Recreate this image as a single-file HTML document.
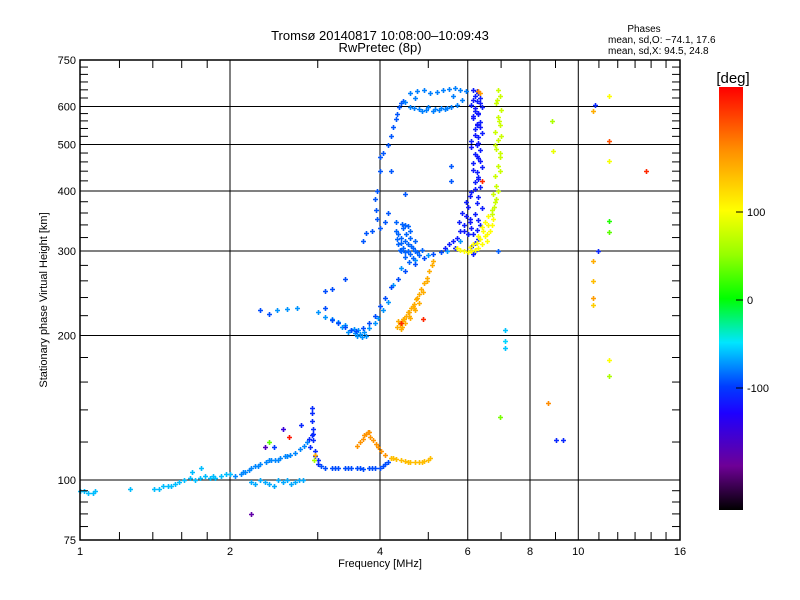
<!DOCTYPE html>
<html><head><meta charset="utf-8"><style>
html,body{margin:0;padding:0;background:#fff;}
svg{display:block;font-family:"Liberation Sans",sans-serif;}
</style></head><body>
<svg id="chart" width="800" height="600" viewBox="0 0 800 600" xmlns="http://www.w3.org/2000/svg">
<rect x="0" y="0" width="800" height="600" fill="#fff"/>
<text x="380" y="40" font-size="13" text-anchor="middle">Tromsø 20140817 10:08:00–10:09:43</text>
<text x="380" y="52" font-size="13" text-anchor="middle">RwPretec (8p)</text>
<g font-size="10">
<text x="644" y="32" text-anchor="middle">Phases</text>
<text x="608" y="43">mean, sd,O: −74.1, 17.6</text>
<text x="608" y="54">mean, sd,X:  94.5, 24.8</text>
</g>
<g id="grid"></g>
<g id="points"></g>
<rect x="80" y="60" width="600" height="480" fill="none" stroke="#000" stroke-width="1.5"/>
<g id="axes" font-size="11"></g>
<text x="380" y="567" font-size="11" text-anchor="middle">Frequency [MHz]</text>
<text x="0" y="0" font-size="11" text-anchor="middle" transform="translate(47,300) rotate(-90)">Stationary phase Virtual Height [km]</text>
<defs><linearGradient id="cmap" x1="0" y1="0" x2="0" y2="1">
<stop offset="0" stop-color="#ff0000"/><stop offset="0.146" stop-color="#ff8c00"/><stop offset="0.292" stop-color="#ffff00"/><stop offset="0.396" stop-color="#96ff00"/><stop offset="0.5" stop-color="#00ff00"/><stop offset="0.604" stop-color="#00e6ff"/><stop offset="0.708" stop-color="#003cff"/><stop offset="0.771" stop-color="#1e00ff"/><stop offset="0.896" stop-color="#6e0096"/><stop offset="1" stop-color="#000000"/>
</linearGradient></defs>
<rect x="719" y="87" width="24" height="423" fill="url(#cmap)"/>
<text x="733" y="83" font-size="15" text-anchor="middle">[deg]</text>
<g id="cbar" font-size="11"></g>
</svg>
<script>
const xTickVals=[1,2,4,6,8,10,16];
const xTickLabels=["1","2","4","6","8","10","16"];
const yTickVals=[75,100,200,300,400,500,600,750];
const yTickLabels=["75","100","200","300","400","500","600","750"];
const cbarVals=[100,0,-100];
const cbarLabels=["100","0","-100"];
const xMinor=[1.2,1.4,1.6,1.8,3,5,7,9,11,12,13,14,15];
const yMinor=[80,85,90,95,120,140,160,180,220,240,260,280,320,340,360,380,420,440,460,480,520,540,560,580,625,650,675,700,725];

// echo groups: phase (deg), frequencies (MHz), virtual heights (km)
const eLowPhase=-62;
const eLowF=[1.0,1.02,1.04,1.06,1.07,1.26,1.41,1.44,1.47,1.5,1.52,1.55,1.58,1.62,1.66,1.7,1.74,1.78,1.82,1.87,1.92,1.96,2.0,1.68,1.75,1.85];
const eLowH=[95,95,94,94,95,96,96,96,97,97,97,98,99,100,101,100,101,102,101,101,102,103,103,104,106,102];
const eRisePhase=-78;
const eRiseF=[2.05,2.1,2.14,2.2,2.25,2.3,2.36,2.42,2.46,2.52,2.58,2.64,2.7,2.76,2.82,2.86,2.12,2.18,2.28,2.4,2.5,2.6];
const eRiseH=[102,103,104,106,107,108,109,110,110,111,112,113,114,116,118,120,104,105,107,110,110,112];
const eSpikePhase=-108;
const eSpikeF=[2.92,2.92,2.92,2.93,2.92,2.94,2.94,2.96,2.96,3.0,3.0,2.9,2.88];
const eSpikeH=[141,138,133,128,124,125,121,115,112,110,108,117,122];
const eFlatPhase=-95;
const eFlatF=[3.05,3.1,3.2,3.3,3.4,3.5,3.6,3.7,3.8,3.9,4.0,4.05,4.1,4.15,3.25,3.45,3.65,3.85];
const eFlatH=[107,106,106,106,106,106,106,105.5,106,106,106,107,108,109,106,106,106,106];
const eBelowPhase=-68;
const eBelowF=[2.2,2.25,2.3,2.35,2.4,2.5,2.55,2.6,2.7,2.75,2.8,2.45,2.65];
const eBelowH=[99,98,100,99,98,100,99,100,99,100,100,97,98];
const eCuspPhase=165;
const eCuspF=[3.6,3.65,3.7,3.75,3.78,3.82,3.87,3.92,3.97,4.02,4.1,3.72,3.8];
const eCuspH=[118,120,122,125,126,123,121,119,117,115,113,124,126];
const eTailPhase=140;
const eTailF=[4.2,4.3,4.4,4.5,4.6,4.7,4.8,4.9,5.0,5.05,4.25,4.55,4.85];
const eTailH=[111,110.5,110,109.5,109,109,109,109.5,110,111,111,109,109];
const oLowPhase=-74;
const oLowF=[2.48,2.6,2.72,3.0,3.1,3.2,3.3,3.4,3.5,3.56,3.64,3.72,3.8,3.9,3.96,4.05,4.15,4.25,4.4,4.7,5.0,5.45,5.8,6.0,3.45,3.6,3.68,3.35,3.55,3.75,3.62];
const oLowH=[226,227,228,224,219,216,213,210,205,202,201,203,207,212,218,226,235,255,277,288,295,300,315,326,203,200,199,208,206,200,205];
const oLow2Phase=-95;
const oLow2F=[3.2,3.3,3.4,3.5,3.58,3.7,3.8,3.9,4.0,4.1,4.2,4.35,4.5,4.7,4.9,5.1,5.3,3.1,3.2,3.4,3.1,2.4,2.3];
const oLow2H=[215,212,208,205,204,207,212,220,230,240,252,262,272,282,290,296,298,248,250,262,228,222,226];
const clusterPhase=-88;
const clusterF=[4.3,4.35,4.4,4.45,4.5,4.55,4.6,4.65,4.4,4.5,4.6,4.7,4.8,4.35,4.45,4.55,4.65,4.75,4.85,4.5,4.6,4.4,4.7,4.3,4.55,4.32,4.42,4.52,4.62,4.38,4.48,4.58];
const clusterH=[330,325,320,335,315,310,320,305,300,298,296,300,295,310,305,300,290,298,302,340,330,312,315,345,338,318,342,325,308,302,292,285];
const upperPhase=-92;
const upperF=[4.0,4.05,4.15,4.2,4.25,4.3,4.33,4.36,4.4,4.45,4.2,4.0,3.95,3.9,3.92,3.94,4.0,4.1,4.15,3.85,3.75,3.7,5.55,5.55,4.48];
const upperH=[470,480,500,520,545,565,580,600,610,615,440,440,400,385,365,350,335,345,360,330,327,315,450,420,395];
const loopPhase=-80;
const loopF=[4.6,4.75,4.9,5.05,5.2,5.35,5.5,5.65,5.8,5.95,4.5,4.6,4.8,4.95,5.1,5.25,5.4,5.55,5.7,5.85,4.7,5.0,5.3,5.6,4.68,4.85,5.15,5.45];
const loopH=[640,645,648,640,642,650,652,655,650,645,612,600,592,590,588,590,592,598,605,620,625,600,597,630,595,588,594,596];
const oVertPhase=-115;
const oVertF=[6.15,6.3,6.2,6.35,6.25,6.1,6.4,6.2,6.3,6.15,6.35,6.25,6.2,6.4,6.3,6.1,6.25,6.35,6.2,6.3,6.15,6.4,6.25,6.3,6.2,6.35,6.1,6.3,6.25,6.4,6.2,6.3,6.35,6.25,6.15,6.3,6.2,6.1,6.2,6.15,5.7,5.8,5.6,5.9,5.75,5.5,5.85,5.95,5.65,5.4];
const oVertH=[650,640,632,625,615,605,598,588,578,568,558,548,538,528,518,508,498,488,478,468,458,448,438,428,418,408,398,388,378,368,358,348,340,332,325,318,312,306,300,296,320,330,315,340,345,310,360,380,305,305];
const oVert2Phase=-118;
const oVert2F=[6.25,6.15,6.35,6.2,6.3,6.15,6.25,6.35,6.2,6.3,6.1,6.25,6.35,6.15,6.3,6.2,6.05,6.0,5.95,6.05,5.9,6.0,6.1,6.05];
const oVert2H=[645,620,610,595,583,573,553,543,523,503,493,473,463,443,423,403,390,370,355,345,330,325,335,350];
const xTopPhase=75;
const xTopF=[6.9,6.95,6.85,7.0,6.9,6.95,6.8,6.9,6.85,6.95,6.9,6.8,6.85,6.75,6.8,6.7,6.88,6.92,6.82,6.98,6.95,7.0,6.9,6.85,6.78,6.72];
const xTopH=[650,630,610,590,570,550,530,510,490,470,450,430,410,395,380,365,620,560,500,440,480,520,400,385,370,358];
const xLowPhase=100;
const xLowF=[6.75,6.6,6.65,6.5,6.55,6.4,6.3,6.2,6.1,6.0,5.9,5.8,5.7,6.45,6.7,6.35,6.25,6.6,6.5,6.4,6.55,6.3,6.15,6.05];
const xLowH=[350,340,330,322,315,310,305,302,300,298,300,302,305,330,340,318,312,355,345,336,325,322,310,306];
const xOrangePhase=150;
const xOrangeF=[4.33,4.38,4.42,4.47,4.52,4.57,4.62,4.67,4.72,4.78,4.84,4.9,4.96,5.02,5.08,5.11,4.4,4.5,4.6,4.7,4.8,4.45,4.55,4.65,4.75,4.35,4.42,4.58,4.68,4.88,4.98];
const xOrangeH=[208,211,214,217,220,224,228,233,238,244,250,257,264,272,280,286,206,212,218,226,234,216,224,230,240,214,208,220,228,246,260];
const strayF=[10.7,11.5,11.5,11.5,11.5,11.5,10.8,10.95,10.7,10.7,10.7,10.7,13.7,8.85,8.9,8.7,9.03,9.33,7.13,7.13,7.13,6.96,11.5,11.5,6.9,2.55,2.63,2.35,2.4,2.45,2.78,2.96,2.95,2.2,4.88,4.4,6.35,6.4,6.3];
const strayH=[588,632,509,463,347,328,603,300,286,260,240,231,441,560,485,145,121,121,205,195,188,135,178,165,300,128,123,117,120,117,130,113,110,85,217,212,640,420,645];
const strayP=[150,100,200,95,10,30,-110,-110,150,140,160,130,220,60,90,170,-110,-110,-60,-55,-60,40,100,60,-90,-150,230,-170,30,-100,-110,150,60,-180,220,220,160,220,170];

const groups=[
 [eLowPhase,eLowF,eLowH],[eRisePhase,eRiseF,eRiseH],[eSpikePhase,eSpikeF,eSpikeH],
 [eFlatPhase,eFlatF,eFlatH],[eBelowPhase,eBelowF,eBelowH],[eCuspPhase,eCuspF,eCuspH],
 [eTailPhase,eTailF,eTailH],[oLowPhase,oLowF,oLowH],[oLow2Phase,oLow2F,oLow2H],
 [clusterPhase,clusterF,clusterH],[upperPhase,upperF,upperH],[loopPhase,loopF,loopH],
 [oVertPhase,oVertF,oVertH],[oVert2Phase,oVert2F,oVert2H],[xTopPhase,xTopF,xTopH],[xLowPhase,xLowF,xLowH],
 [xOrangePhase,xOrangeF,xOrangeH]
];

const NS="http://www.w3.org/2000/svg";
function xs(f){return 80+150*Math.log2(f);}
function ys(h){return 540-480*Math.log(h/75)/Math.log(10);}
function cy(v){return 300-0.88*v;}
const cstops=[[-240,0,0,0],[-190,110,0,150],[-130,30,0,255],[-100,0,60,255],[-50,0,230,255],[0,0,255,0],[50,150,255,0],[100,255,255,0],[170,255,140,0],[240,255,0,0]];
function col(v){
  v=Math.max(-240,Math.min(240,v));
  for(let i=0;i<cstops.length-1;i++){const a=cstops[i],b=cstops[i+1];
    if(v<=b[0]){const t=(v-a[0])/(b[0]-a[0]);
      return "rgb("+[1,2,3].map(k=>Math.round(a[k]+t*(b[k]-a[k]))).join(",")+")";}}
  return "rgb(255,0,0)";
}
function mk(tag,attrs,parent){const e=document.createElementNS(NS,tag);for(const k in attrs)e.setAttribute(k,attrs[k]);parent.appendChild(e);return e;}

const grid=document.getElementById("grid"),axes=document.getElementById("axes"),pts=document.getElementById("points"),cb=document.getElementById("cbar");
xTickVals.forEach((f,i)=>{
  const x=xs(f);
  if(i>0&&i<xTickVals.length-1){const l=mk("line",{x1:x,y1:60,x2:x,y2:540,stroke:"#000","stroke-width":1},grid);
    
    }
  const t=mk("text",{x:x,y:555,"text-anchor":"middle"},axes);t.textContent=xTickLabels[i];
  
  
});
yTickVals.forEach((h,i)=>{
  const y=ys(h);
  if(i>0&&i<yTickVals.length-1){const l=mk("line",{x1:80,y1:y,x2:680,y2:y,stroke:"#000","stroke-width":1},grid);
    
    }
  const t=mk("text",{x:76,y:y+4,"text-anchor":"end"},axes);t.textContent=yTickLabels[i];
  
  
});
xMinor.forEach(f=>{const x=xs(f);
  const a=mk("line",{x1:x,y1:540,x2:x,y2:532,stroke:"#000"},axes);
  
  
  const b=mk("line",{x1:x,y1:60,x2:x,y2:68,stroke:"#000"},axes);
  
  
});
yMinor.forEach(h=>{const y=ys(h);
  const a=mk("line",{x1:80,y1:y,x2:88,y2:y,stroke:"#000"},axes);
  
  
  const b=mk("line",{x1:672,y1:y,x2:680,y2:y,stroke:"#000"},axes);
  
  
});
function plus(f,h,p){
  const x=Math.round(xs(f)),y=Math.round(ys(h)),c=col(p);
  const g=mk("path",{d:"M"+(x-2)+" "+(y+0.5)+"h5M"+(x+0.5)+" "+(y-2)+"v5",stroke:c,"stroke-width":1.6,fill:"none"},pts);
  
  
}
groups.forEach(g=>{const p=g[0],F=g[1],H=g[2];for(let i=0;i<F.length;i++)plus(F[i],H[i],p);});
for(let i=0;i<strayF.length;i++)plus(strayF[i],strayH[i],strayP[i]);
cbarVals.forEach((v,i)=>{const y=cy(v);
  const l=mk("line",{x1:736,y1:y,x2:743,y2:y,stroke:"#000"},cb);
  
  
  const t=mk("text",{x:747,y:y+4},cb);t.textContent=cbarLabels[i];
  
  
});
</script>
</body></html>
